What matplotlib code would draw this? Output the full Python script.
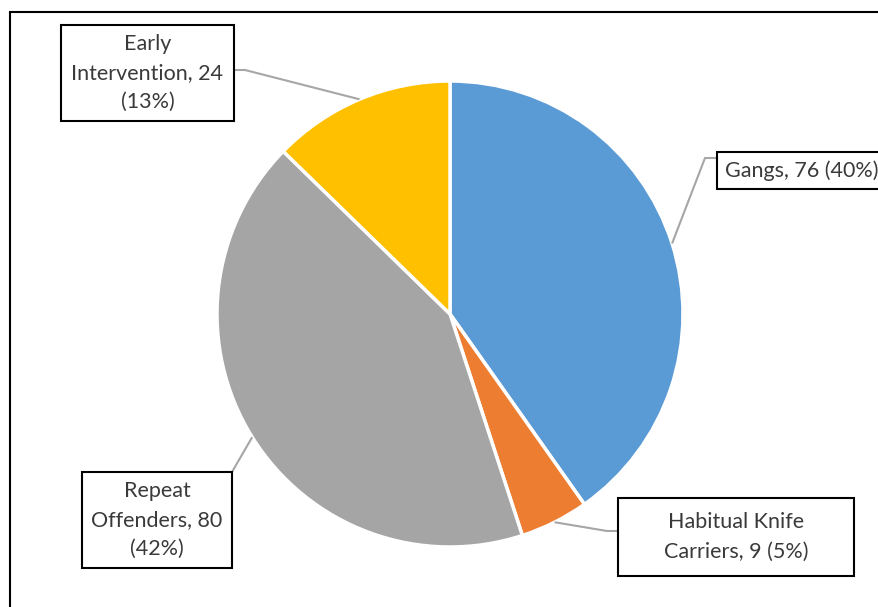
import matplotlib
matplotlib.use("Agg")
import matplotlib.pyplot as plt
from matplotlib.patches import Rectangle
import numpy as np

# Caseload by cohort
categories = ["Gangs", "Habitual Knife Carriers", "Repeat Offenders", "Early Intervention"]
values = [76, 9, 80, 24]
colors = ["#5B9BD5", "#ED7D31", "#A5A5A5", "#FFC000"]
label_lines = [
    ["Gangs, 76 (40%)"],
    ["Habitual Knife", "Carriers, 9 (5%)"],
    ["Repeat", "Offenders, 80", "(42%)"],
    ["Early", "Intervention, 24", "(13%)"],
]

W, H = 879, 607
fig = plt.figure(figsize=(W / 100, H / 100), dpi=100)
ax = fig.add_axes([0, 0, 1, 1])


def py(y):
    return H - y


cx, cy, R = 450, py(314), 233
wedges, _ = ax.pie(values, colors=colors, startangle=90, counterclock=False,
                   center=(cx, cy), radius=R, frame=False,
                   wedgeprops=dict(edgecolor="white", linewidth=2.5))
ax.set_xlim(0, W)
ax.set_ylim(0, H)
ax.set_aspect("equal")
ax.axis("off")

# Outer chart frame
ax.add_patch(Rectangle((10, py(700)), 1000, 688, fill=False,
                       edgecolor="black", linewidth=1.5))

# label boxes: (left, top, right, bottom) in pixel coords
boxes = [
    (717, 152, 900, 189),
    (618, 498, 854, 576),
    (82, 472, 232, 568),
    (61, 25, 234, 121),
]
# leader-line bends after leaving the wedge rim
elbows = [
    [(705, 158), (717, 158)],
    [(607, 531), (618, 531)],
    [(232, 472)],
    [(245, 70), (234, 70)],
]
line_gap = 29
lead_col = "#A6A6A6"
txt_col = "#3A3A3A"
fs = 15.5

for w, (l, t, r, b), elb, lines in zip(wedges, boxes, elbows, label_lines):
    mid = np.deg2rad((w.theta1 + w.theta2) / 2)
    sx, sy = cx + R * np.cos(mid), cy + R * np.sin(mid)
    pts = [(sx, sy)] + [(ex, py(ey)) for ex, ey in elb]
    xs, ys = zip(*pts)
    ax.plot(xs, ys, color=lead_col, linewidth=1.5, solid_capstyle="butt", zorder=3)
    ax.add_patch(Rectangle((l, py(b)), r - l, b - t, facecolor="white",
                           edgecolor="black", linewidth=1.5, zorder=4))
    n = len(lines)
    ymid = (t + b) / 2
    for i, s in enumerate(lines):
        yy = ymid + (i - (n - 1) / 2) * line_gap
        if r > W:
            ax.text(l + 8, py(yy), s, ha="left", va="center", fontsize=fs,
                    family="Lato", color=txt_col, zorder=5)
        else:
            ax.text((l + r) / 2, py(yy), s, ha="center", va="center", fontsize=fs,
                    family="Lato", color=txt_col, zorder=5)

fig.savefig("out.png", dpi=100)
